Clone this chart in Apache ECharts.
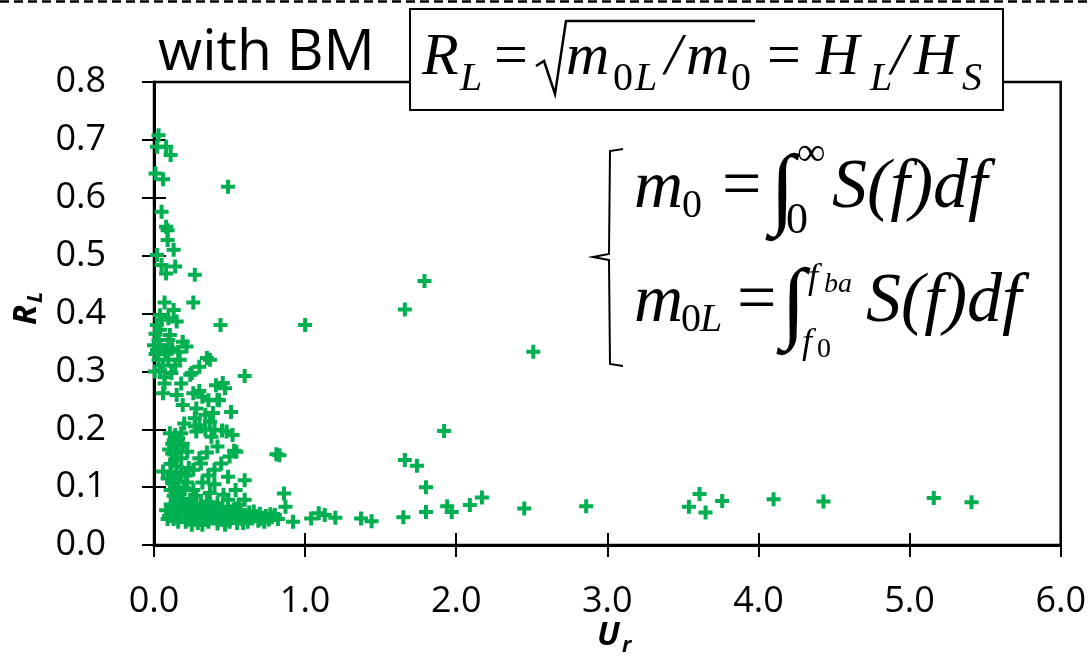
<!DOCTYPE html>
<html><head><meta charset="utf-8">
<script src="https://cdn.jsdelivr.net/npm/echarts@6/dist/echarts.min.js"></script>
<style>html,body{margin:0;padding:0;background:#fff}#c{width:1089px;height:666px}</style>
</head><body><div id="c"></div>
<script>
// ---- data ----
const xMin = 0, xMax = 6, xStep = 1;
const yMin = 0, yMax = 0.8, yStep = 0.1;
const xName = 'U', xNameSub = 'r';
const yName = 'R', yNameSub = 'L';
const titleText = 'with BM';
// [Ur, RL]
const pointsUpper = [
 [0.03,0.708],[0.02,0.688],[0.08,0.688],[0.11,0.674],[0.01,0.642],[0.06,0.632],[0.49,0.619],
 [0.05,0.576],[0.08,0.550],[0.09,0.544],[0.09,0.527],[0.13,0.510],[0.02,0.501],[0.05,0.484],
 [0.14,0.481],[0.08,0.469],[0.27,0.467],[0.07,0.419],[0.13,0.406],[0.26,0.419],[0.44,0.380],
 [0.60,0.292],[0.04,0.397],[0.095,0.392],[0.05,0.389],[0.15,0.386],[0.04,0.372],[0.105,0.363],
 [0.03,0.354],[0.095,0.354],[0.19,0.351],[0.02,0.337],[0.07,0.337],[0.16,0.334],[0.215,0.343],
 [0.03,0.320],[0.095,0.320],[0.17,0.320],[0.35,0.323],[0.30,0.308],[0.37,0.320],[0.04,0.302],
 [0.115,0.297],[0.25,0.297],[0.24,0.294],[0.07,0.279],[0.18,0.279],[0.41,0.276],[0.47,0.271],
 [0.455,0.280],[0.06,0.262],[0.15,0.259],[0.26,0.262],[0.32,0.256],[0.42,0.251],[0.30,0.266],
 [0.19,0.242],[0.28,0.236],[0.39,0.228],[0.51,0.230],[0.36,0.250],[0.43,0.250],[0.27,0.219],
 [0.37,0.213],[0.30,0.207],[0.34,0.225],[0.105,0.193],[0.18,0.193],[0.28,0.196],[0.40,0.199],
 [0.48,0.196],[0.52,0.190],[0.34,0.200],[0.27,0.205],[0.01,0.330],[0.005,0.300],[0.01,0.365],
 [0.02,0.380],[0.00,0.345],[0.06,0.310],[0.04,0.345],[0.08,0.330],[0.12,0.340],[0.14,0.310],
 [0.07,0.290]
];
const pointsMiddle = [
 [0.13,0.181],[0.17,0.170],[0.22,0.161],[0.12,0.158],[0.545,0.161],[0.50,0.153],[0.81,0.157],
 [0.14,0.190],[0.12,0.175],[0.16,0.185],[0.10,0.165],[0.15,0.163],[0.19,0.175],[0.14,0.147],
 [0.18,0.150],[0.11,0.140],[0.06,0.127],[0.15,0.135],[0.26,0.130],[0.31,0.141],[0.445,0.141],
 [0.49,0.118],[0.60,0.112],[0.11,0.125],[0.13,0.118],[0.18,0.125],[0.21,0.120],[0.16,0.110],
 [0.09,0.115],[0.23,0.133],[0.12,0.108],[0.22,0.108],[0.32,0.108],[0.40,0.105],[0.54,0.095],
 [0.60,0.078],[0.86,0.089],[0.15,0.092],[0.26,0.095],[0.37,0.090],[0.46,0.087],[0.19,0.080],
 [0.35,0.075],[0.49,0.078],[0.56,0.070],[0.14,0.100],[0.20,0.098],[0.28,0.085],[0.17,0.088],
 [0.24,0.078],[0.31,0.070],[0.42,0.072],[0.13,0.085],[0.11,0.095],[0.30,0.150],[0.35,0.160],
 [0.42,0.170],[0.53,0.163],[0.40,0.130],[0.36,0.120],[0.38,0.187],[0.45,0.198],[0.20,0.210]
];
const pointsLower = [
 [0.08,0.060],[0.10,0.050],[0.12,0.062],[0.13,0.045],[0.15,0.055],[0.17,0.065],[0.18,0.048],
 [0.20,0.058],[0.21,0.040],[0.23,0.052],[0.24,0.064],[0.26,0.045],[0.27,0.057],[0.29,0.038],
 [0.30,0.050],[0.31,0.062],[0.33,0.044],[0.34,0.055],[0.36,0.040],[0.37,0.060],[0.39,0.048],
 [0.40,0.058],[0.42,0.037],[0.43,0.050],[0.45,0.062],[0.46,0.044],[0.48,0.054],[0.50,0.040],
 [0.51,0.058],[0.53,0.047],[0.55,0.038],[0.56,0.055],[0.58,0.045],[0.60,0.052],[0.62,0.040],
 [0.63,0.056],[0.65,0.046],[0.67,0.050],[0.69,0.042],[0.70,0.054],[0.72,0.047],[0.74,0.050],
 [0.76,0.044],[0.78,0.048],[0.80,0.052],[0.82,0.045],[0.87,0.066],[0.92,0.040],[0.11,0.070],
 [0.14,0.068],[0.19,0.072],[0.22,0.068],[0.25,0.070],[0.28,0.066],[0.16,0.040],[0.25,0.035],
 [0.32,0.035],[0.38,0.052],[0.44,0.045],[0.47,0.035],[0.52,0.052],[0.57,0.060],[0.64,0.048],
 [0.71,0.045],[0.09,0.045],[0.35,0.066],[0.41,0.065],[0.49,0.066],[0.54,0.063],[0.66,0.058],
 [0.73,0.040],[0.77,0.053],[0.59,0.038]
];
const pointsRight = [
 [1.04,0.046],[1.09,0.055],[1.13,0.052],[1.20,0.047],[1.37,0.046],[1.44,0.041],[1.65,0.048],
 [1.80,0.057],[1.94,0.067],[1.97,0.057],[2.09,0.069],[2.17,0.082],[2.45,0.063],[2.86,0.067],
 [3.54,0.066],[3.61,0.088],[3.65,0.056],[3.76,0.076],[4.10,0.079],[4.43,0.075],[5.16,0.081],
 [5.41,0.074],[1.66,0.147],[1.74,0.137],[1.92,0.197],[1.80,0.100],[1.66,0.407],[1.79,0.456],
 [2.51,0.334],[1.00,0.380],[0.83,0.155]
];
const allPoints = pointsUpper.concat(pointsMiddle, pointsLower, pointsRight);

// ---- chart ----
const chart = echarts.init(document.getElementById('c'), null, {renderer:'canvas'});
const black = '#000';
const green = '#00B050';
const labelFont = {color:black, fontFamily:'Open Sans', fontSize:36};
const serifI = (size) => ({fontFamily:'Liberation Serif', fontStyle:'italic', fontSize:size, fill:black});
const serifN = (size) => ({fontFamily:'Liberation Serif', fontSize:size, fill:black});
function t(x, y, text, st, align){ return {type:'text', z:20, x:x, y:y, style:Object.assign({text:text, align:align||'left', verticalAlign:'middle'}, st)}; }

const baseX = {type:'value', min:xMin, max:xMax, interval:xStep, position:'bottom', splitLine:{show:false}};
const baseY = {type:'value', min:yMin, max:yMax, interval:yStep, position:'left', splitLine:{show:false}};

const option = {
  backgroundColor:'#fff',
  animation:false,
  grid:{left:154, right:25, top:82, bottom:121, show:true, borderColor:black, borderWidth:2.5},
  xAxis:[
    Object.assign({}, baseX, {axisLine:{onZero:false, lineStyle:{color:black,width:3}},
      axisTick:{inside:false,length:12,lineStyle:{color:black,width:2}},
      axisLabel:Object.assign({margin:39, formatter:v=>v.toFixed(1)}, labelFont)}),
    Object.assign({}, baseX, {axisLine:{show:false}, axisTick:{inside:true,length:12,lineStyle:{color:black,width:2}}, axisLabel:{show:false}})
  ],
  yAxis:[
    Object.assign({}, baseY, {axisLine:{onZero:false, lineStyle:{color:black,width:3}},
      axisTick:{inside:false,length:12,lineStyle:{color:black,width:2}},
      axisLabel:Object.assign({margin:48, formatter:v=>v.toFixed(1)}, labelFont)}),
    Object.assign({}, baseY, {axisLine:{show:false}, axisTick:{inside:true,length:12,lineStyle:{color:black,width:2}}, axisLabel:{show:false}})
  ],
  series:[{
    type:'scatter', xAxisIndex:0, yAxisIndex:0, data:allPoints,
    symbol:'path://M5,0H9V5H14V9H9V14H5V9H0V5H5Z', symbolSize:14,
    itemStyle:{color:green, opacity:1}
  }],
  graphic:[
    {type:'line', z:20, shape:{x1:0,y1:1.5,x2:1089,y2:1.5}, style:{stroke:black, lineWidth:2.5, lineDash:[9,5]}},
    t(158, 54, titleText, {fontFamily:'Open Sans', fontSize:57, fill:black}),
    // axis titles
    t(597, 636, xName, {fontFamily:'Open Sans', fontWeight:'bold', fontStyle:'italic', fontSize:33, fill:black}),
    t(622, 646, xNameSub, {fontFamily:'Open Sans', fontWeight:'bold', fontStyle:'italic', fontSize:22, fill:black}),
    {type:'group', z:20, x:27, y:325, rotation:Math.PI/2, children:[
      {type:'text', x:0, y:0, style:{text:yName, fontFamily:'Open Sans', fontWeight:'bold', fontStyle:'italic', fontSize:33, fill:black, align:'left', verticalAlign:'middle'}},
      {type:'text', x:22, y:9, style:{text:yNameSub, fontFamily:'Open Sans', fontWeight:'bold', fontStyle:'italic', fontSize:22, fill:black, align:'left', verticalAlign:'middle'}}
    ]},
    // formula box
    {type:'rect', z:19, shape:{x:410, y:9, width:593, height:101}, style:{fill:'#fff', stroke:black, lineWidth:2}},
    t(422, 58, 'R', serifI(60)),
    t(460, 79, 'L', serifI(40)),
    t(494, 58, '=', serifN(60)),
    {type:'polyline', z:20, shape:{points:[[536,66],[544,61],[555,94],[566,21],[755,21]]}, style:{stroke:black, lineWidth:2.5, fill:null}},
    t(566, 58, 'm', serifI(60)),
    t(613, 79, '0', serifN(40)),
    t(635, 79, 'L', serifI(40)),
    t(665, 58, '/', serifI(60)),
    t(686, 58, 'm', serifI(60)),
    t(731, 79, '0', serifN(40)),
    t(767, 58, '=', serifN(60)),
    t(816, 58, 'H', serifI(60)),
    t(870, 79, 'L', serifI(40)),
    t(891, 58, '/', serifI(60)),
    t(914, 58, 'H', serifI(60)),
    t(962, 79, 'S', serifI(40)),
    // definitions
    {type:'polyline', z:20, shape:{points:[[623,149],[610,151],[609,254],[593,257],[609,260],[610,364],[623,366]]}, style:{stroke:black, lineWidth:2, fill:null}},
    t(634, 189, 'm', serifI(68)),
    t(682, 206, '0', serifN(40)),
    t(722, 189, '=', serifN(70)),
    t(770, 193, '\u222B', serifN(90)),
    t(797, 154, '\u221E', serifN(40)),
    t(786, 221, '0', serifN(44)),
    t(832, 189, 'S(f)df', serifI(70)),
    t(634, 303, 'm', serifI(68)),
    t(681, 320, '0', serifN(40)),
    t(700, 320, 'L', serifI(40)),
    t(737, 303, '=', serifN(70)),
    t(781, 307, '\u222B', serifN(90)),
    t(808, 279, 'f', serifI(36)),
    t(824, 285, 'ba', serifI(28)),
    t(802, 344, 'f', serifI(36)),
    t(817, 350, '0', serifN(28)),
    t(866, 303, 'S(f)df', serifI(70))
  ]
};
chart.setOption(option);
</script></body></html>
